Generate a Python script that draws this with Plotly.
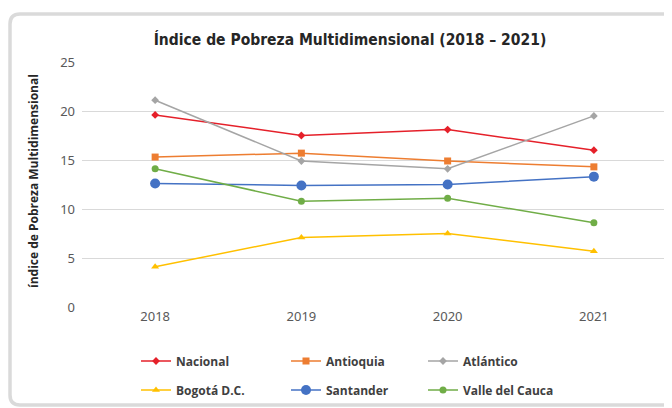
import plotly.graph_objects as go

years = ["2018", "2019", "2020", "2021"]
nacional = [19.6, 17.5, 18.1, 16.0]
antioquia = [15.3, 15.7, 14.9, 14.3]
atlantico = [21.1, 14.9, 14.1, 19.5]
bogota = [4.1, 7.1, 7.5, 5.7]
santander = [12.6, 12.4, 12.5, 13.3]
valle = [14.1, 10.8, 11.1, 8.6]

OFF = 8  # page body margin offset
W, H = 672 - OFF, 408 - OFF
L, R, T, B = 82 - OFF, 5, 62 - OFF, 101
PW, PH = W - L - R, H - T - B

def fx(p):
    return (p - OFF - L) / PW

def fy(p):
    return (H - B - (p - OFF)) / PH

# name, values, color, symbol, size, legend slot (page px x, page px y)
series = [
    ("Nacional", nacional, "#E5202A", "diamond", 6, 136, 361),
    ("Antioquia", antioquia, "#ED7D31", "square", 7, 286, 361),
    ("Atlántico", atlantico, "#A5A5A5", "diamond", 6, 423, 361),
    ("Bogotá D.C.", bogota, "#FFC000", "triangle-up", 7, 136, 390),
    ("Santander", santander, "#4472C4", "circle", 10, 286, 390),
    ("Valle del Cauca", valle, "#70AD47", "circle", 7, 423, 390),
]

leg_font = dict(family="Open Sans, Noto Sans, sans-serif", size=12, color="#404040", weight="bold")

fig = go.Figure()
legends = {}
for i, (name, vals, color, sym, size, lx, ly) in enumerate(series):
    key = "legend" if i == 0 else f"legend{i + 1}"
    fig.add_trace(go.Scatter(
        x=years, y=vals, name=name, mode="lines+markers",
        line=dict(color=color, width=1.5),
        marker=dict(symbol=sym, size=size, color=color),
        legend=key, showlegend=True,
    ))
    legends[key] = dict(
        orientation="h", x=fx(lx), xanchor="left", y=fy(ly), yanchor="middle",
        font=leg_font, bgcolor="rgba(0,0,0,0)", itemclick=False, itemdoubleclick=False,
        visible=True,
    )

# card outline with rounded corners (page px)
r = 10
x0, y0, y1, x1 = 10, 14, 405, 700
path = (
    f"M {fx(x1)},{fy(y0)} L {fx(x0 + r)},{fy(y0)} "
    f"Q {fx(x0)},{fy(y0)} {fx(x0)},{fy(y0 + r)} "
    f"L {fx(x0)},{fy(y1 - r)} "
    f"Q {fx(x0)},{fy(y1)} {fx(x0 + r)},{fy(y1)} "
    f"L {fx(x1)},{fy(y1)}"
)

tick_font = dict(family="Noto Sans, Open Sans, sans-serif", size=13, color="#595959")

fig.update_layout(
    width=W, height=H,
    showlegend=True,
    margin=dict(l=L, r=R, t=T, b=B, autoexpand=False),
    paper_bgcolor="white", plot_bgcolor="white",
    title=dict(
        text="<b>Índice de Pobreza Multidimensional (2018 – 2021)</b>",
        x=fx(350), xref="paper", xanchor="center",
        y=1 - (40 - OFF) / H, yref="container", yanchor="middle",
        font=dict(family="DejaVu Sans Condensed, sans-serif", size=15.5, color="#262626"),
    ),
    xaxis=dict(
        type="category", range=[-0.5, 3.5], showgrid=False, showline=False,
        zeroline=False, ticks="", tickfont=tick_font,
    ),
    yaxis=dict(
        range=[0, 25], dtick=5, showgrid=True, gridcolor="#D9D9D9", gridwidth=1,
        zeroline=False, showline=False, ticks="", tickfont=tick_font,
        ticklabelstandoff=6,
    ),
    shapes=[dict(
        type="path", path=path, xref="paper", yref="paper",
        line=dict(color="#DADADA", width=3.5), layer="below",
    )],
    annotations=[dict(
        text="<b>índice de Pobreza Multidimensional</b>",
        x=fx(33), y=fy(181), xref="paper", yref="paper",
        xanchor="center", yanchor="middle", textangle=-90, showarrow=False,
        font=dict(family="Open Sans, Noto Sans, sans-serif", size=12, color="#262626"),
    )],
    **legends,
)

fig.write_html("out.html")
